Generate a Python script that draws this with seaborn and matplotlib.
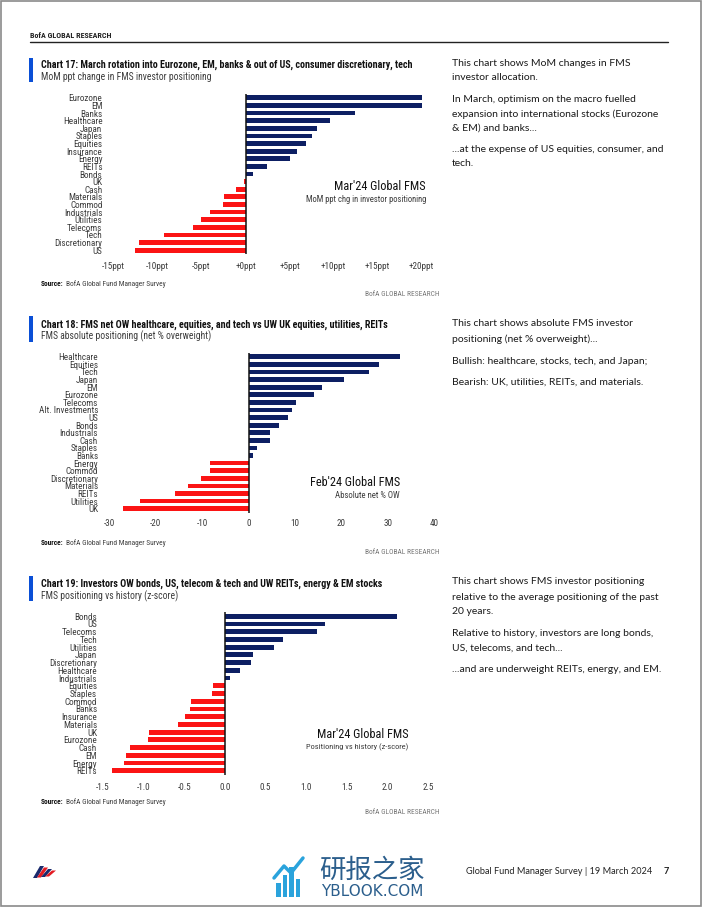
import matplotlib
matplotlib.use('Agg')
import matplotlib.pyplot as plt
import seaborn as sns
import pandas as pd
from matplotlib.patches import Rectangle, Polygon
from matplotlib import font_manager as fm

sns.set_theme(style='white')
avail = sorted({f.name for f in fm.fontManager.ttflist})
COND = [f for f in ['Roboto Condensed', 'Liberation Sans Narrow', 'Open Sans Condensed',
                    'DejaVu Sans Condensed', 'Roboto'] if f in avail] + ['DejaVu Sans']
plt.rcParams['font.family'] = COND

W, H = 702, 907

# ---------------- data ----------------
c17_cats = ['Eurozone', 'EM', 'Banks', 'Healthcare', 'Japan', 'Staples', 'Equities', 'Insurance',
            'Energy', 'REITs', 'Bonds', 'UK', 'Cash', 'Materials', 'Commod', 'Industrials',
            'Utilities', 'Telecoms', 'Tech', 'Discretionary', 'US']
c17_vals = [20.0, 20.0, 12.4, 9.6, 8.1, 7.6, 6.9, 5.8, 5.0, 2.4, 0.8, -0.2, -1.1, -2.5, -2.6,
            -4.0, -5.1, -6.0, -9.3, -12.1, -12.6]
c17_ticks = [-15, -10, -5, 0, 5, 10, 15, 20]
c17_ticklabels = ['-15ppt', '-10ppt', '-5ppt', '+0ppt', '+5ppt', '+10ppt', '+15ppt', '+20ppt']

c18_cats = ['Healthcare', 'Equities', 'Tech', 'Japan', 'EM', 'Eurozone', 'Telecoms',
            'Alt. Investments', 'US', 'Bonds', 'Industrials', 'Cash', 'Staples', 'Banks',
            'Energy', 'Commod', 'Discretionary', 'Materials', 'REITs', 'Utilities', 'UK']
c18_vals = [32.6, 28.0, 26.0, 20.5, 15.8, 14.0, 10.2, 9.3, 8.5, 6.5, 4.7, 4.7, 1.9, 0.9,
            -8.4, -8.4, -10.3, -13.0, -15.8, -23.4, -27.1]
c18_ticks = [-30, -20, -10, 0, 10, 20, 30, 40]
c18_ticklabels = ['-30', '-20', '-10', '0', '10', '20', '30', '40']

c19_cats = ['Bonds', 'US', 'Telecoms', 'Tech', 'Utilities', 'Japan', 'Discretionary',
            'Healthcare', 'Industrials', 'Equities', 'Staples', 'Commod', 'Banks', 'Insurance',
            'Materials', 'UK', 'Eurozone', 'Cash', 'EM', 'Energy', 'REITs']
c19_vals = [2.12, 1.23, 1.13, 0.71, 0.60, 0.35, 0.32, 0.19, 0.07, -0.14, -0.16, -0.41, -0.43,
            -0.49, -0.58, -0.93, -0.94, -1.16, -1.21, -1.24, -1.39]
c19_ticks = [-1.5, -1.0, -0.5, 0.0, 0.5, 1.0, 1.5, 2.0, 2.5]
c19_ticklabels = ['-1.5', '-1.0', '-0.5', '0.0', '0.5', '1.0', '1.5', '2.0', '2.5']

NAVY = '#0d1f63'
RED = '#fb1414'
ACCENT = '#0a4fd6'
GREY = '#3c3c3c'

fig = plt.figure(figsize=(7.02, 9.07), dpi=100)
fig.patch.set_facecolor('white')
renderer = fig.canvas.get_renderer()


def fy(y):
    return 1 - y / H


def ftext(x, y, s, **kw):
    kw.setdefault('va', 'center')
    return fig.text(x / W, fy(y), s, **kw)


def ax_at(x0, x1, ytop, ybot):
    return fig.add_axes([x0 / W, fy(ybot), (x1 - x0) / W, (ybot - ytop) / H])


def draw_chart(ax, cats, vals, xlim, ticks, ticklabels, ypad, xpad):
    df = pd.DataFrame({'cat': cats, 'val': vals,
                       'sign': ['pos' if v >= 0 else 'neg' for v in vals]})
    sns.barplot(data=df, x='val', y='cat', hue='sign', palette={'pos': NAVY, 'neg': RED},
                dodge=False, width=0.62, legend=False, ax=ax, saturation=1, linewidth=0)
    ax.set_xlim(*xlim)
    ax.set_ylim(len(cats) - 0.5, -0.5)
    ax.axvline(0, color='#111111', lw=1.1, zorder=5)
    ax.set_xticks(ticks)
    ax.set_xticklabels(ticklabels)
    ax.set_xlabel('')
    ax.set_ylabel('')
    for s in ax.spines.values():
        s.set_visible(False)
    ax.tick_params(axis='y', length=0, pad=ypad, labelsize=6.6, labelcolor=GREY)
    ax.tick_params(axis='x', length=0, pad=xpad, labelsize=6.6, labelcolor=GREY)
    ax.set_facecolor('none')


# ---------- page frame & header ----------
fig.add_artist(Rectangle((0.0015, 0.0015), 0.997, 0.997, transform=fig.transFigure,
                         fill=False, edgecolor='#8a8a8a', lw=1.2))
ftext(30, 35, 'BofA GLOBAL RESEARCH', fontsize=5.8, color='#222222', fontweight='bold')
fig.add_artist(plt.Line2D([30 / W, 668 / W], [fy(42), fy(42)], transform=fig.transFigure,
                          color='#222222', lw=1.0))


def header(ytitle, ysub, title, sub, ytop, ybot):
    fig.add_artist(Rectangle((29 / W, fy(ybot)), 3.5 / W, (ybot - ytop) / H,
                             transform=fig.transFigure, color=ACCENT, lw=0))
    ftext(41, ytitle, title, fontsize=7.2, fontweight='bold', color='#111111')
    ftext(41, ysub, sub, fontsize=6.9, color=GREY)


def footer(ysrc, yres):
    t = ftext(41, ysrc, 'Source:', fontsize=5.3, color='#111111', fontweight='bold')
    wpx = t.get_window_extent(renderer).width
    ftext(41 + wpx + 2, ysrc, 'BofA Global Fund Manager Survey', fontsize=5.3, color=GREY)
    ftext(440, yres, 'BofA GLOBAL RESEARCH', fontsize=5.3, color='#777777', ha='right')


# ---------- Chart 17 ----------
header(65, 77, 'Chart 17: March rotation into Eurozone, EM, banks & out of US, consumer discretionary, tech',
       'MoM ppt change in FMS investor positioning', 58, 82)
ax1 = ax_at(113.5, 421.5, 94, 254)
draw_chart(ax1, c17_cats, c17_vals, (-15, 20), c17_ticks, c17_ticklabels, 8, 6)
ftext(426, 187, "Mar'24 Global FMS", fontsize=8.8, color='#111111', ha='right')
ftext(426, 199, 'MoM ppt chg in investor positioning', fontsize=6.2, color=GREY, ha='right')
footer(284, 294)

# ---------- Chart 18 ----------
header(325, 336, 'Chart 18: FMS net OW healthcare, equities, and tech vs UW UK equities, utilities, REITs',
       'FMS absolute positioning (net % overweight)', 316, 342)
ax2 = ax_at(109.3, 434.3, 353, 512.5)
draw_chart(ax2, c18_cats, c18_vals, (-30, 40), c18_ticks, c18_ticklabels, 8, 5)
ftext(400, 483, "Feb'24 Global FMS", fontsize=8.8, color='#111111', ha='right')
ftext(400, 496, 'Absolute net % OW', fontsize=6.3, color=GREY, ha='right')
footer(543, 553)

# ---------- Chart 19 ----------
header(584, 596, 'Chart 19: Investors OW bonds, US, telecom & tech and UW REITs, energy & EM stocks',
       'FMS positioning vs history (z-score)', 576, 601)
ax3 = ax_at(102.7, 428.3, 612.4, 774.6)
draw_chart(ax3, c19_cats, c19_vals, (-1.5, 2.5), c19_ticks, c19_ticklabels, 4, 6)
ftext(408, 734, "Mar'24 Global FMS", fontsize=8.8, color='#111111', ha='right')
ftext(408, 747, 'Positioning vs history (z-score)', fontsize=6.0, color=GREY, ha='right')
footer(802, 812)

# ---------- right-side commentary ----------
RT = dict(fontsize=7.5, color='#1a1a1a', family=['Lato', 'DejaVu Sans'])
for y, s in [(64, 'This chart shows MoM changes in FMS'), (78, 'investor allocation.'),
             (100, 'In March, optimism on the macro fuelled'),
             (114, 'expansion into international stocks (Eurozone'),
             (128, '& EM) and banks...'),
             (150, '...at the expense of US equities, consumer, and'), (163, 'tech.'),
             (323, 'This chart shows absolute FMS investor'),
             (339, 'positioning (net % overweight)...'),
             (361, 'Bullish: healthcare, stocks, tech, and Japan;'),
             (382, 'Bearish: UK, utilities, REITs, and materials.'),
             (582, 'This chart shows FMS investor positioning'),
             (597, 'relative to the average positioning of the past'),
             (612, '20 years.'),
             (633, 'Relative to history, investors are long bonds,'),
             (648, 'US, telecoms, and tech...'),
             (669, '...and are underweight REITs, energy, and EM.')]:
    ftext(452, y, s, **RT)

# ---------- page footer ----------
for i, col in enumerate(['#1a2a6c', '#e31b23', '#1a2a6c', '#e31b23']):
    fig.add_artist(Polygon([((33 + i * 4) / W, fy(878 - i * 0.5)), ((37 + i * 4) / W, fy(878 - i * 0.5)),
                            ((44 + i * 4) / W, fy(866 + i * 1.5)), ((40 + i * 4) / W, fy(866 + i * 1.5))],
                           closed=True, transform=fig.transFigure, color=col, lw=0))
for i, hgt in enumerate([14, 22, 30, 18]):
    fig.add_artist(Rectangle(((276 + i * 6.5) / W, fy(897)), 4.5 / W, hgt / H,
                             transform=fig.transFigure, color='#2aa3dc', lw=0))
fig.add_artist(plt.Line2D([274 / W, 284 / W, 291 / W, 303 / W],
                          [fy(878), fy(866), fy(873), fy(858)], transform=fig.transFigure,
                          color='#2aa3dc', lw=2.5))
ftext(372, 870, '研报之家', fontsize=19, color='#2b5e8c', ha='center',
      family=['Noto Sans CJK SC', 'DejaVu Sans'])
ftext(372, 892, 'YBLOOK.COM', fontsize=11, color='#2b5e8c', ha='center',
      family=['DejaVu Sans'])
ftext(466, 871, 'Global Fund Manager Survey | 19 March 2024', fontsize=6.6, color='#222222',
      family=['Lato', 'DejaVu Sans'])
ftext(664, 871, '7', fontsize=6.6, color='#222222', fontweight='bold',
      family=['Lato', 'DejaVu Sans'])

fig.savefig('out.png', dpi=100, facecolor='white')
